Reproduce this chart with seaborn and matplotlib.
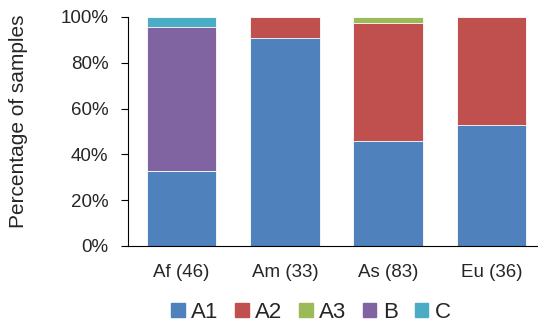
import seaborn as sns
import matplotlib.pyplot as plt
import pandas as pd
import numpy as np

regions = ['Af (46)', 'Am (33)', 'As (83)', 'Eu (36)']
groups = ['A1', 'A2', 'A3', 'B', 'C']
A1 = [15, 30, 38, 19]
A2 = [0, 3, 43, 17]
A3 = [0, 0, 2, 0]
B = [29, 0, 0, 0]
C = [2, 0, 0, 0]
colors = ['#4F81BD', '#C0504D', '#9BBB59', '#8064A2', '#4BACC6']

counts = pd.DataFrame({'A1': A1, 'A2': A2, 'A3': A3, 'B': B, 'C': C}, index=regions)
pct = counts.div(counts.sum(axis=1), axis=0) * 100
cum = pct.cumsum(axis=1)

sns.set_style('white')
plt.rcParams['font.family'] = ['Liberation Sans', 'DejaVu Sans']

fig = plt.figure(figsize=(5.38, 3.26), dpi=100)
ax = fig.add_axes([0.238, 0.2454, 0.762, 0.7025])

# draw cumulative totals from the top layer down so each hides the next
for g, c in reversed(list(zip(groups, colors))):
    d = pd.DataFrame({'region': regions, 'val': cum[g].values})
    sns.barplot(data=d, x='region', y='val', color=c, width=0.675,
                edgecolor='white', linewidth=0.6, saturation=1, ax=ax)

ax.set_xlim(-0.517, 3.45)
ax.set_ylim(0, 100)
ax.set_yticks(np.arange(0, 101, 20))
ax.set_yticklabels([f'{v}%' for v in range(0, 101, 20)], fontsize=13.5)
ax.tick_params(axis='x', labelsize=13.5, length=0, pad=13)
ax.tick_params(axis='y', length=5, width=0.8, color='black', left=True, pad=9)
ax.set_xlabel('')
ax.set_ylabel('Percentage of samples', fontsize=15)
ax.yaxis.set_label_coords(-0.243, 0.545)
for s in ['top', 'right']:
    ax.spines[s].set_visible(False)
for s in ['left', 'bottom']:
    ax.spines[s].set_color('black')
    ax.spines[s].set_linewidth(0.8)

handles = [plt.Rectangle((0, 0), 1, 1, color=c) for c in colors]
fig.legend(handles, groups, loc='center', bbox_to_anchor=(0.578, 0.042), ncol=5,
           frameon=False, fontsize=16, handlelength=0.6, handleheight=0.6,
           handletextpad=0.3, columnspacing=0.75, borderpad=0)

fig.savefig('out.png', dpi=100)
